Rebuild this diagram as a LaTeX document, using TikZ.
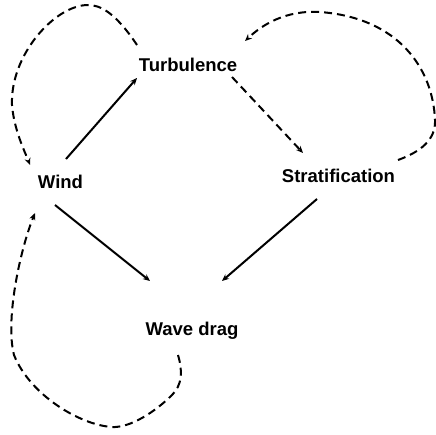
\documentclass[tikz,border=0pt]{standalone}
\usepackage{fontspec}
\setmainfont{Liberation Sans}
\usetikzlibrary{arrows.meta}
\begin{document}
\begin{tikzpicture}[x=1pt,y=-1pt,
  lbl/.style={font=\bfseries\fontsize{18.5}{22}\selectfont, anchor=base, inner sep=0pt},
  solidarrow/.style={line width=2pt, -{Stealth[length=7pt,width=6pt]}},
  dasharrow/.style={line width=2pt, dash pattern=on 8pt off 5pt, -{Stealth[length=7pt,width=6pt]}}]
\useasboundingbox (0,0) rectangle (436,434);
\node[lbl] (turb) at (188,71) {Turbulence};
\node[lbl] (wind) at (60.5,188) {Wind};
\node[lbl] (strat) at (338.5,182) {Stratification};
\node[lbl] (drag) at (192,335) {Wave drag};
% anchor points
\coordinate (w1) at (66,159);
\coordinate (t1) at (137,78);
\coordinate (w2) at (55,205);
\coordinate (d1) at (150,281);
\coordinate (s1) at (317,199);
\coordinate (d2) at (222,281);
\coordinate (t2) at (232,77);
\coordinate (s2) at (303,153);
\coordinate (t3) at (137,45);
\coordinate (w3) at (30,165);
\coordinate (s3) at (398,160);
\coordinate (t4) at (245,41);
\coordinate (d3) at (178,355);
\coordinate (w4) at (35,213);
% solid
\draw[solidarrow] (w1) -- (t1);
\draw[solidarrow] (w2) -- (d1);
\draw[solidarrow] (s1) -- (d2);
% dashed
\draw[dasharrow] (t2) -- (s2);
\draw[dasharrow] (t3) .. controls (115,12) and (100,5) .. (88,5)
  .. controls (55,5) and (10,55) .. (12,105)
  .. controls (14,130) and (25,152) .. (w3);
\draw[dasharrow] (s3) .. controls (420,152) and (436,140) .. (435,120)
  .. controls (433,70) and (400,18) .. (320,12)
  .. controls (285,10) and (262,25) .. (t4);
\draw[dasharrow] (d3) .. controls (183,372) and (182,385) .. (172,395)
  .. controls (155,412) and (130,428) .. (112,427)
  .. controls (80,425) and (30,395) .. (14,355)
  .. controls (5,320) and (20,250) .. (w4);
\end{tikzpicture}
\end{document}
